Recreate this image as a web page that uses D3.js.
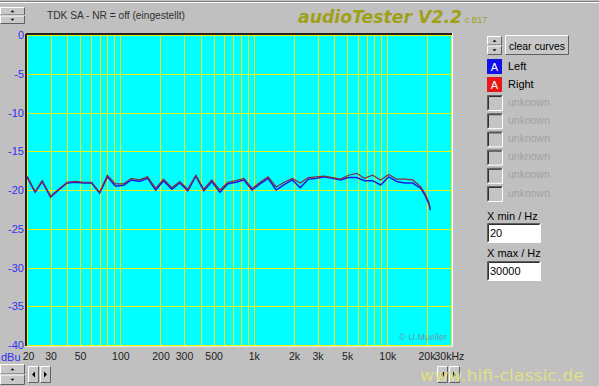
<!DOCTYPE html>
<html>
<head>
<meta charset="utf-8">
<script src="https://cdn.jsdelivr.net/npm/d3@7"></script>
<style>
  body { margin: 0; background: #c0c0c0; }
  svg { display: block; font-family: "Liberation Sans", Arial, sans-serif; }
</style>
</head>
<body>
<div id="chart"></div>
<script>
// Daten
const freqs = [20, 23, 26, 30, 35, 40, 46, 53, 61, 70, 80, 92, 106, 121, 139, 160, 184, 211, 243, 279,
  320, 368, 422, 485, 557, 640, 735, 844, 970, 1114, 1280, 1470, 1689, 1940, 2229, 2560, 2941, 3378,
  3880, 4457, 5120, 5881, 6756, 7760, 8914, 10240, 11763, 13512, 15521, 17829, 19200, 20480, 21000];
const leftDb = [-18.3, -20.3, -18.9, -20.9, -19.9, -19.1, -19.0, -19.1, -19.1, -20.4, -18.3, -19.5, -19.4,
  -18.7, -18.9, -18.5, -20.0, -18.8, -19.9, -19.1, -20.1, -18.2, -20.1, -18.9, -20.3, -19.2, -19.0, -18.7,
  -20.0, -19.2, -18.5, -20.0, -19.3, -18.7, -19.7, -18.6, -18.5, -18.3, -18.5, -18.7, -18.4, -18.4, -18.8,
  -18.8, -19.35, -18.3, -18.9, -19.1, -19.1, -19.8, -20.7, -21.8, -22.6];
const rightDb = [-18.2, -20.2, -18.8, -20.8, -19.8, -19.0, -18.9, -19.0, -19.0, -20.3, -18.1, -19.2, -19.2,
  -18.5, -18.7, -18.3, -19.8, -18.6, -19.7, -18.9, -19.9, -18.1, -19.9, -18.7, -20.0, -19.0, -18.8, -18.5,
  -19.8, -19.0, -18.3, -19.6, -19.0, -18.5, -19.1, -18.4, -18.3, -18.2, -18.4, -18.6, -18.1, -17.85, -18.5,
  -18.1, -18.7, -18.0, -18.6, -18.6, -18.7, -19.6, -20.5, -21.6, -22.4];

const yTicks = [0, -5, -10, -15, -20, -25, -30, -35, -40];
const xTicks = [20, 30, 50, 100, 200, 300, 500, 1000, 2000, 3000, 5000, 10000, 20000, 30000];
const xTickLabels = ["20", "30", "50", "100", "200", "300", "500", "1k", "2k", "3k", "5k", "10k", "20k", "30kHz"];
const gridFreqs = [20, 30, 40, 50, 60, 70, 80, 90, 100, 200, 300, 400, 500, 600, 700, 800, 900,
  1000, 2000, 3000, 4000, 5000, 6000, 7000, 8000, 9000, 10000, 20000, 30000];
const extraCurves = ["unknown", "unknown", "unknown", "unknown", "unknown", "unknown"];

const width = 599, height = 386;
const plot = { left: 27, top: 35, right: 451, bottom: 345 };

const svg = d3.select("#chart").append("svg")
  .attr("width", width)
  .attr("height", height);

svg.append("rect").attr("width", width).attr("height", height).attr("fill", "#c0c0c0");

// Fensterrand oben
svg.append("line").attr("x1", 0).attr("x2", width).attr("y1", 1.5).attr("y2", 1.5).attr("stroke", "#808080");
svg.append("line").attr("x1", 0).attr("x2", width).attr("y1", 2.5).attr("y2", 2.5).attr("stroke", "#ffffff");

const xScale = d3.scaleLog().domain([20, 30000]).range([plot.left, plot.right]);
const yScale = d3.scaleLinear().domain([-40, 0]).range([plot.bottom, plot.top]);

// Hintergrund
svg.append("rect")
  .attr("x", plot.left).attr("y", plot.top)
  .attr("width", plot.right - plot.left).attr("height", plot.bottom - plot.top)
  .attr("fill", "#00ffff");

// GRID
svg.selectAll(".vgrid")
  .data(gridFreqs)
  .enter().append("line")
    .attr("class", "vgrid")
    .attr("x1", d => Math.round(xScale(d)) + 0.5)
    .attr("x2", d => Math.round(xScale(d)) + 0.5)
    .attr("y1", plot.top).attr("y2", plot.bottom)
    .attr("stroke", "#f0f010").attr("stroke-width", 1);

svg.selectAll(".hgrid")
  .data(yTicks)
  .enter().append("line")
    .attr("class", "hgrid")
    .attr("x1", plot.left).attr("x2", plot.right)
    .attr("y1", d => Math.round(yScale(d)) + 0.5)
    .attr("y2", d => Math.round(yScale(d)) + 0.5)
    .attr("stroke", "#f0f010").attr("stroke-width", 1);

// Rahmen (eingesunken)
svg.append("line").attr("x1", plot.left - 1).attr("x2", plot.right + 1).attr("y1", plot.top - 1).attr("y2", plot.top - 1)
  .attr("stroke", "#202020").attr("stroke-width", 2);
svg.append("line").attr("x1", plot.left - 1).attr("x2", plot.left - 1).attr("y1", plot.top - 1).attr("y2", plot.bottom + 1)
  .attr("stroke", "#202020").attr("stroke-width", 2);
svg.append("line").attr("x1", plot.right + 1.5).attr("x2", plot.right + 1.5).attr("y1", plot.top - 2).attr("y2", plot.bottom + 2)
  .attr("stroke", "#ffffff").attr("stroke-width", 1);
svg.append("line").attr("x1", plot.left - 2).attr("x2", plot.right + 2).attr("y1", plot.bottom + 1.5).attr("y2", plot.bottom + 1.5)
  .attr("stroke", "#e8e8e8").attr("stroke-width", 1);

// KURVEN
const line = d3.line()
  .x((d, i) => xScale(freqs[i]))
  .y(d => yScale(d));

svg.append("path").datum(leftDb)
  .attr("d", line).attr("fill", "none")
  .attr("stroke", "#1a1ae0").attr("stroke-width", 1.5);

svg.append("path").datum(rightDb)
  .attr("d", line).attr("fill", "none")
  .attr("stroke", "#8a2a3a").attr("stroke-width", 1.2);

// Y-ACHSE
const yAxis = svg.append("g")
  .attr("transform", `translate(${plot.left - 3},0)`)
  .call(d3.axisLeft(yScale).tickValues(yTicks).tickSize(0).tickPadding(0).tickFormat(d => d));
yAxis.select(".domain").remove();
yAxis.selectAll("text")
  .attr("fill", "#3030f0").attr("font-size", 11).attr("font-family", "Liberation Sans, Arial, sans-serif");

svg.append("text").attr("x", 1).attr("y", 361)
  .attr("fill", "#3030f0").attr("font-size", 11).text("dBu");

// X-ACHSE
const last = xTicks.length - 1;
const xAxis = svg.append("g")
  .attr("transform", `translate(0,${plot.bottom + 8})`)
  .call(d3.axisBottom(xScale).tickValues(xTicks).tickSize(0).tickPadding(0)
    .tickFormat((d, i) => xTickLabels[i]));
xAxis.select(".domain").remove();
xAxis.selectAll("text")
  .attr("fill", "#202020").attr("font-size", 10.5).attr("font-family", "Liberation Sans, Arial, sans-serif")
  .style("text-anchor", (d, i) => i === last ? "start" : "middle")
  .attr("x", (d, i) => i === last ? -17 : (i === last - 1 ? -1 : (i === 0 ? 1 : 0)));

// Copyright
svg.append("text").attr("x", plot.right - 4).attr("y", plot.bottom - 5)
  .attr("text-anchor", "end").attr("fill", "#6a9ab0").attr("font-size", 9).text("© U.Mueller");

// TITEL
svg.append("text").attr("x", 47).attr("y", 19)
  .attr("fill", "#303030").attr("font-size", 11)
  .attr("textLength", 138).attr("lengthAdjust", "spacingAndGlyphs")
  .text("TDK SA - NR = off (eingestellt)");

svg.append("text").attr("x", 298).attr("y", 23)
  .attr("fill", "#a0a018").attr("font-size", 17).attr("font-weight", "bold").attr("font-style", "italic")
  .attr("font-family", "DejaVu Sans, Arial, sans-serif")
  .attr("textLength", 164).attr("lengthAdjust", "spacingAndGlyphs")
  .text("audioTester V2.2");
svg.append("text").attr("x", 465).attr("y", 23)
  .attr("fill", "#a0a018").attr("font-size", 9)
  .attr("textLength", 22).attr("lengthAdjust", "spacingAndGlyphs")
  .text("c B17");

// Buttons
function raised(x, y, w, h) {
  const g = svg.append("g");
  g.append("rect").attr("x", x).attr("y", y).attr("width", w).attr("height", h).attr("fill", "#c8c8c8");
  g.append("path").attr("d", `M${x + 0.5},${y + h - 0.5}V${y + 0.5}H${x + w - 0.5}`)
    .attr("fill", "none").attr("stroke", "#ffffff");
  g.append("path").attr("d", `M${x + 0.5},${y + h - 0.5}H${x + w - 0.5}V${y + 0.5}`)
    .attr("fill", "none").attr("stroke", "#606060");
  return g;
}
function spinner(x, y, w, h) {
  raised(x, y, w, h / 2);
  raised(x, y + h / 2, w, h / 2);
  const cx = x + w / 2;
  svg.append("path").attr("d", `M${cx - 2},${y + h / 4 + 1}h4l-2,-2z`).attr("fill", "#000");
  svg.append("path").attr("d", `M${cx - 2},${y + 3 * h / 4 - 1}h4l-2,2z`).attr("fill", "#000");
}
function sunken(x, y, w, h, fill) {
  const g = svg.append("g");
  g.append("rect").attr("x", x).attr("y", y).attr("width", w).attr("height", h).attr("fill", fill);
  g.append("path").attr("d", `M${x + 0.5},${y + h - 0.5}V${y + 0.5}H${x + w - 0.5}`)
    .attr("fill", "none").attr("stroke", "#606060");
  g.append("path").attr("d", `M${x + 1.5},${y + h - 1.5}V${y + 1.5}H${x + w - 1.5}`)
    .attr("fill", "none").attr("stroke", "#303030");
  g.append("path").attr("d", `M${x + 0.5},${y + h - 0.5}H${x + w - 0.5}V${y + 0.5}`)
    .attr("fill", "none").attr("stroke", "#ffffff");
}
function arrowBtn(x, y, dir) {
  raised(x, y, 11, 17);
  const cx = x + 5.5, cy = y + 8.5;
  svg.append("path").attr("d", dir < 0 ? `M${cx + 1.5},${cy - 3}v6l-3,-3z` : `M${cx - 1.5},${cy - 3}v6l3,-3z`)
    .attr("fill", "#000");
}

spinner(0, 7, 25, 17);
spinner(0, 364, 25, 21);
arrowBtn(28, 366, -1);
arrowBtn(40, 366, 1);
arrowBtn(437, 366, -1);
arrowBtn(449, 366, 1);

// Rechtes Panel
spinner(487, 36, 15, 19);
raised(505, 35, 64, 20);
svg.append("text").attr("x", 509).attr("y", 49.5)
  .attr("fill", "#000").attr("font-size", 11)
  .attr("textLength", 56).attr("lengthAdjust", "spacingAndGlyphs")
  .text("clear curves");

// Legende
const legend = [
  { name: "Left", color: "#1010e8" },
  { name: "Right", color: "#e81818" }
];
legend.forEach((d, i) => {
  const y = 59 + i * 18;
  svg.append("rect").attr("x", 487).attr("y", y).attr("width", 15).attr("height", 15).attr("fill", d.color);
  svg.append("text").attr("x", 494.5).attr("y", y + 12).attr("text-anchor", "middle")
    .attr("fill", "#ffffff").attr("font-size", 11).text("A");
  svg.append("text").attr("x", 508).attr("y", y + 11)
    .attr("fill", "#000").attr("font-size", 11).text(d.name);
});
extraCurves.forEach((d, i) => {
  const y = 95 + i * 18.2;
  sunken(487, y, 16, 16, "#c4c4c4");
  svg.append("text").attr("x", 508).attr("y", y + 10.5)
    .attr("fill", "#a0a0a0").attr("font-size", 11)
    .attr("textLength", 42).attr("lengthAdjust", "spacingAndGlyphs")
    .text(d);
});

svg.append("text").attr("x", 487).attr("y", 220).attr("fill", "#000").attr("font-size", 11).text("X min / Hz");
sunken(487, 223, 54, 20, "#ffffff");
svg.append("text").attr("x", 490).attr("y", 237).attr("fill", "#000").attr("font-size", 11).text("20");
svg.append("text").attr("x", 487).attr("y", 257).attr("fill", "#000").attr("font-size", 11).text("X max / Hz");
sunken(487, 261, 54, 20, "#ffffff");
svg.append("text").attr("x", 490).attr("y", 275).attr("fill", "#000").attr("font-size", 11).text("30000");

// Wasserzeichen
svg.append("text").attr("x", 420).attr("y", 381)
  .attr("fill", "#e6e67a").attr("fill-opacity", 0.85).attr("font-size", 16)
  .attr("font-family", "DejaVu Sans, Arial, sans-serif")
  .attr("textLength", 164).attr("lengthAdjust", "spacingAndGlyphs")
  .text("www.hifi-classic.de");
</script>
</body>
</html>
